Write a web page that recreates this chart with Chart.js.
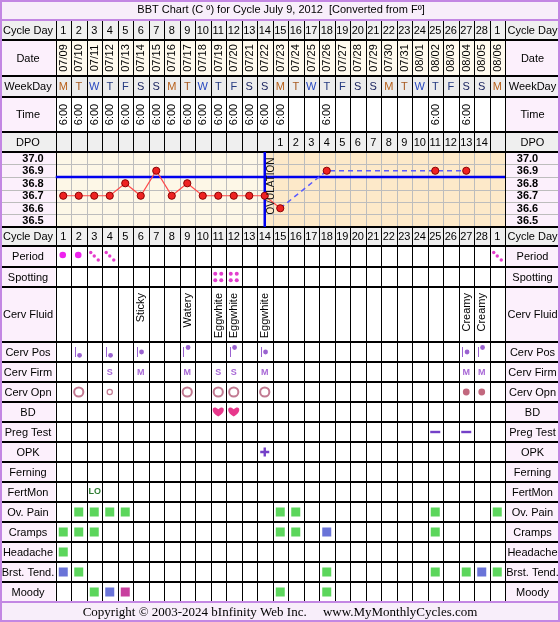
<!DOCTYPE html>
<html><head><meta charset="utf-8">
<script src="https://cdn.jsdelivr.net/npm/chart.js@4/dist/chart.umd.min.js"></script>
<style>html,body{margin:0;padding:0;background:#fff}#wrap{position:relative;width:560px;height:622px}</style>
</head><body><div id="wrap"><canvas id="c"></canvas></div>
<script>
// ---------- DATA ----------
const chartTitle = 'BBT Chart (C \u00BA) for Cycle July 9, 2012  [Converted from F\u00BA]';
const copyrightText = 'Copyright \u00A9 2003-2024 bInfinity Web Inc.     www.MyMonthlyCycles.com';
const cycleDays = [1,2,3,4,5,6,7,8,9,10,11,12,13,14,15,16,17,18,19,20,21,22,23,24,25,26,27,28,1];
const dates = ['07/09','07/10','07/11','07/12','07/13','07/14','07/15','07/16','07/17','07/18','07/19','07/20','07/21','07/22','07/23','07/24','07/25','07/26','07/27','07/28','07/29','07/30','07/31','08/01','08/02','08/03','08/04','08/05','08/06'];
const weekDays = ['M','T','W','T','F','S','S','M','T','W','T','F','S','S','M','T','W','T','F','S','S','M','T','W','T','F','S','S','M'];
const times = ['6:00','6:00','6:00','6:00','6:00','6:00','6:00','6:00','6:00','6:00','6:00','6:00','6:00','6:00','6:00','','','6:00','','','','','','','6:00','','6:00','',''];
const dpo = ['','','','','','','','','','','','','','','1','2','3','4','5','6','7','8','9','10','11','12','13','14',''];
const temperatures = [36.7,36.7,36.7,36.7,36.8,36.7,36.9,36.7,36.8,36.7,36.7,36.7,36.7,36.7,36.6,null,null,36.9,null,null,null,null,null,null,36.9,null,36.9,null,null];
const tempTicks = [37.0,36.9,36.8,36.7,36.6,36.5];
const tempMin = 36.45, tempMax = 37.05;
const coverLine = 36.85;
const ovulationDay = 14;
// 2 = heavy, 1 = light
const period   = [2,2,1,1,0,0,0,0,0,0,0,0,0,0,0,0,0,0,0,0,0,0,0,0,0,0,0,0,1];
const spotting = [0,0,0,0,0,0,0,0,0,0,1,1,0,0,0,0,0,0,0,0,0,0,0,0,0,0,0,0,0];
const cervFluid = ['','','','','','Sticky','','','Watery','','Eggwhite','Eggwhite','','Eggwhite','','','','','','','','','','','','','Creamy','Creamy',''];
const cervPos  = ['','L','','L','','M','','','H','','','H','','M','','','','','','','','','','','','','M','H',''];
const cervFirm = ['','','','S','','M','','','M','','S','S','','M','','','','','','','','','','','','','M','M',''];
const cervOpn  = ['','O','','S','','','','','O','','O','O','','O','','','','','','','','','','','','','C','C',''];
const bd       = [0,0,0,0,0,0,0,0,0,0,1,1,0,0,0,0,0,0,0,0,0,0,0,0,0,0,0,0,0];
const pregTest = ['','','','','','','','','','','','','','','','','','','','','','','','','-','','-','',''];
const opk      = ['','','','','','','','','','','','','','+','','','','','','','','','','','','','','',''];
const ferning  = ['','','','','','','','','','','','','','','','','','','','','','','','','','','','',''];
const fertMon  = ['','','LO','','','','','','','','','','','','','','','','','','','','','','','','','',''];
// symptom intensity 1 mild, 2 moderate, 3 severe
const ovPain   = [0,1,1,1,1,0,0,0,0,0,0,0,0,0,1,1,0,0,0,0,0,0,0,0,1,0,0,0,1];
const cramps   = [1,1,1,0,0,0,0,0,0,0,0,0,0,0,1,1,0,2,0,0,0,0,0,0,1,0,0,0,0];
const headache = [1,0,0,0,0,0,0,0,0,0,0,0,0,0,0,0,0,0,0,0,0,0,0,0,0,0,0,0,0];
const brstTend = [2,1,0,0,0,0,0,0,0,0,0,0,0,0,0,0,0,1,0,0,0,0,0,0,1,0,1,2,1];
const moody    = [0,0,1,2,3,0,0,0,0,0,0,0,0,0,1,0,0,1,0,0,0,0,0,0,0,0,0,0,0];

// ---------- LAYOUT (row order, labels, heights) ----------
const ROWS = [
 ['title','',20],['cycleDay','Cycle Day',20],['date','Date',36],['weekDay','WeekDay',21],['time','Time',35],
 ['dpo','DPO',20],['temp','',75],['cycleDay2','Cycle Day',19],['period','Period',21],['spotting','Spotting',20],
 ['cervFluid','Cerv Fluid',55],['cervPos','Cerv Pos',20],['cervFirm','Cerv Firm',20],['cervOpn','Cerv Opn',20],
 ['bd','BD',20],['pregTest','Preg Test',20],['opk','OPK',20],['ferning','Ferning',20],['fertMon','FertMon',20],
 ['ovPain','Ov. Pain',20],['cramps','Cramps',20],['headache','Headache',20],['brstTend','Brst. Tend.',20],
 ['moody','Moody',20],['copyright','',20]
];
const rowPos = {}; let acc = 0;
ROWS.forEach(r => { rowPos[r[0]] = {top: acc, h: r[2], label: r[1]}; acc += r[2]; });
const TOTAL_H = acc;
const LEFT_W = 55.5, RIGHT_W = 55;

const FF = '"Liberation Sans", Arial, sans-serif';
const C = {
  border:'#c387e3', lav:'#f8eefa', labelBg:'#fcf0fc', gray:'#efefef', dateBg:'#fffaee',
  pre:'#fdf7e7', post:'#fde9c9', grid:'#bdbdbd', blue:'#0000ee', red:'#ff4a4a',
  purple:'#9a62d0', rose:'#c27a92', pink:'#e8388c', violet:'#7440c8',
  levels:['', '#5cd65c', '#6a74d8', '#c8409e']
};
const wdColors = ['#b8601a','#a85a20','#2848c0','#243a80','#243a80','#1c2560','#1c2560'];

function txt(ctx, s, x, y, font, color, align, rot, base) {
  ctx.save(); ctx.translate(x, y); if (rot) ctx.rotate(rot);
  ctx.font = font; ctx.fillStyle = color; ctx.textAlign = align || 'center'; ctx.textBaseline = base || 'middle';
  ctx.fillText(s, 0, 0); ctx.restore();
}
function heart(ctx, x, y, s, color) {
  ctx.beginPath();
  ctx.moveTo(x, y + s*0.5);
  ctx.bezierCurveTo(x - s*0.95, y - s*0.05, x - s*0.5, y - s*0.75, x, y - s*0.22);
  ctx.bezierCurveTo(x + s*0.5, y - s*0.75, x + s*0.95, y - s*0.05, x, y + s*0.5);
  ctx.fillStyle = color; ctx.fill();
}

const tablePlugin = {
  id: 'cycleTable',
  beforeDraw(chart) {
    const ctx = chart.ctx, xs = chart.scales.x, ys = chart.scales.y, A = chart.chartArea;
    const W = chart.width;
    const X = d => xs.getPixelForValue(d);
    ctx.save();
    ctx.fillStyle = '#fff'; ctx.fillRect(0, 0, W, chart.height);
    // row backgrounds
    ROWS.forEach(([key]) => {
      const p = rowPos[key];
      let lab = C.labelBg, cell = '#fff';
      if (key === 'title' || key === 'copyright') { lab = cell = C.lav; }
      else if (key === 'cycleDay' || key === 'cycleDay2' || key === 'dpo') { lab = C.gray; cell = C.gray; }
      else if (key === 'weekDay') { lab = '#f2eef3'; cell = '#ececec'; }
      else if (key === 'date') { cell = C.dateBg; }
      ctx.fillStyle = lab; ctx.fillRect(0, p.top, W, p.h);
      if (key !== 'title' && key !== 'copyright' && key !== 'temp') { ctx.fillStyle = cell; ctx.fillRect(A.left, p.top, A.right - A.left, p.h); }
    });
    // temperature area backgrounds
    const xo = X(ovulationDay);
    ctx.fillStyle = C.pre; ctx.fillRect(A.left, A.top, xo - A.left, A.bottom - A.top);
    ctx.fillStyle = C.post; ctx.fillRect(xo, A.top, A.right - xo, A.bottom - A.top);
    // temp grid
    ctx.strokeStyle = C.grid; ctx.lineWidth = 1;
    ctx.beginPath();
    for (let d = 1; d < 29; d++) { const x = Math.round(X(d + 0.5)) + 0.5; ctx.moveTo(x, A.top); ctx.lineTo(x, A.bottom); }
    tempTicks.slice(0, -1).forEach(t => { const y = Math.round(ys.getPixelForValue(t - 0.05)) + 0.5; ctx.moveTo(0, y); ctx.lineTo(W, y); });
    ctx.stroke();
    // vertical black column lines outside temp
    ctx.strokeStyle = '#000'; ctx.lineWidth = 1;
    ctx.beginPath();
    const yTop = rowPos.cycleDay.top, yBot = rowPos.copyright.top;
    for (let d = 0; d <= 29; d++) {
      const x = Math.round(X(d + 0.5)) + 0.5;
      ctx.moveTo(x, yTop); ctx.lineTo(x, A.top);
      ctx.moveTo(x, A.bottom); ctx.lineTo(x, yBot);
    }
    [X(0.5), X(29.5)].forEach(x0 => { const x = Math.round(x0) + 0.5; ctx.moveTo(x, A.top); ctx.lineTo(x, A.bottom); });
    ctx.stroke();
    // horizontal black row lines
    ctx.lineWidth = 2; ctx.beginPath();
    ROWS.forEach(([key]) => {
      if (key === 'title' || key === 'cycleDay' || key === 'copyright') return;
      const y = rowPos[key].top; ctx.moveTo(0, y); ctx.lineTo(W, y);
    });
    ctx.stroke();
    // purple frame
    ctx.strokeStyle = C.border; ctx.lineWidth = 2; ctx.beginPath();
    ctx.moveTo(0, rowPos.cycleDay.top); ctx.lineTo(W, rowPos.cycleDay.top);
    ctx.moveTo(0, rowPos.copyright.top); ctx.lineTo(W, rowPos.copyright.top);
    ctx.stroke();
    ctx.strokeRect(1, 1, W - 2, chart.height - 2);
    ctx.restore();
  },
  afterDatasetsDraw(chart) {
    const ctx = chart.ctx, xs = chart.scales.x, ys = chart.scales.y, A = chart.chartArea;
    const W = chart.width;
    const X = d => xs.getPixelForValue(d);
    const LX = 28, RX = (A.right + W) / 2;
    const f11 = '11px ' + FF;
    ctx.save();
    // title and copyright
    txt(ctx, chartTitle, 281, rowPos.title.top + 10, '11px ' + FF, '#000');
    txt(ctx, copyrightText, 280, rowPos.copyright.top + 11, '13px "Liberation Serif", "Times New Roman", serif', '#000');
    // row labels
    ROWS.forEach(([key, label]) => {
      if (!label) return;
      const p = rowPos[key], cy = p.top + p.h / 2 + 0.5;
      txt(ctx, label, LX, cy, f11, '#000');
      txt(ctx, label, RX, cy, f11, '#000');
    });
    // temp tick labels
    tempTicks.forEach(t => {
      const y = ys.getPixelForValue(t) + 0.5;
      txt(ctx, t.toFixed(1), 33, y, 'bold 11px ' + FF, '#000');
      txt(ctx, t.toFixed(1), RX - 5, y, 'bold 11px ' + FF, '#000');
    });
    // ovulation label
    txt(ctx, 'OVULATION', X(ovulationDay) + 6, A.top + 34, '10px ' + FF, '#111', 'center', -Math.PI / 2);
    const mid = k => rowPos[k].top + rowPos[k].h / 2;
    for (let i = 0; i < 29; i++) {
      const x = X(i + 1);
      txt(ctx, String(cycleDays[i]), x, mid('cycleDay') + 0.5, f11, '#000');
      txt(ctx, String(cycleDays[i]), x, mid('cycleDay2') + 0.5, f11, '#000');
      txt(ctx, dates[i], x + 0.5, mid('date'), f11, '#000', 'center', -Math.PI / 2);
      txt(ctx, weekDays[i], x, mid('weekDay') + 0.5, f11, wdColors[i % 7]);
      if (times[i]) txt(ctx, times[i], x + 0.5, mid('time'), f11, '#000', 'center', -Math.PI / 2);
      if (dpo[i]) txt(ctx, dpo[i], x, mid('dpo') + 0.5, f11, '#000');
      // period
      if (period[i] === 2) { ctx.fillStyle = '#ee22ee'; ctx.beginPath(); ctx.arc(x - 0.5, mid('period') - 1.5, 3.3, 0, 2 * Math.PI); ctx.fill(); }
      else if (period[i] === 1) {
        ctx.fillStyle = '#e43ccc';
        [[-3.5, -3.5], [0, 0], [4, 4]].forEach(([dx, dy]) => { ctx.beginPath(); ctx.arc(x + dx, mid('period') + dy - 0.5, 1.7, 0, 2 * Math.PI); ctx.fill(); });
      }
      if (spotting[i]) {
        ctx.fillStyle = '#e23ece';
        [[-3, -3.3], [3, -3.3], [-3, 3.3], [3, 3.3]].forEach(([dx, dy]) => { ctx.beginPath(); ctx.arc(x + dx, mid('spotting') + dy, 2, 0, 2 * Math.PI); ctx.fill(); });
      }
      if (cervFluid[i]) txt(ctx, cervFluid[i], x + 0.5, rowPos.cervFluid.top + 6, f11, '#000', 'right', -Math.PI / 2);
      if (cervPos[i]) {
        const m = mid('cervPos');
        ctx.strokeStyle = C.purple; ctx.lineWidth = 1; ctx.beginPath();
        ctx.moveTo(Math.round(x - 4) + 0.5, m - 5); ctx.lineTo(Math.round(x - 4) + 0.5, m + 5); ctx.stroke();
        const dy = cervPos[i] === 'L' ? 3.3 : cervPos[i] === 'M' ? 0 : -4.5;
        ctx.fillStyle = C.purple; ctx.beginPath(); ctx.arc(x + 0.8, m + dy, 2.4, 0, 2 * Math.PI); ctx.fill();
      }
      if (cervFirm[i]) txt(ctx, cervFirm[i], x, mid('cervFirm') + 0.5, 'bold 9px ' + FF, '#a868d6');
      if (cervOpn[i]) {
        const m = mid('cervOpn');
        ctx.beginPath();
        if (cervOpn[i] === 'O') { ctx.strokeStyle = C.rose; ctx.lineWidth = 2; ctx.arc(x, m, 4.6, 0, 2 * Math.PI); ctx.stroke(); }
        else if (cervOpn[i] === 'S') { ctx.strokeStyle = C.rose; ctx.lineWidth = 1.2; ctx.arc(x, m, 2.6, 0, 2 * Math.PI); ctx.stroke(); }
        else { ctx.fillStyle = '#c2687e'; ctx.arc(x, m, 3.4, 0, 2 * Math.PI); ctx.fill(); }
      }
      if (bd[i]) heart(ctx, x, mid('bd') - 0.5, 10, C.pink);
      if (pregTest[i] === '-') { ctx.fillStyle = C.violet; ctx.fillRect(x - 5, mid('pregTest') - 1.2, 10, 2.4); }
      if (opk[i] === '+') {
        ctx.strokeStyle = C.violet; ctx.lineWidth = 2.4; ctx.beginPath();
        const m = mid('opk');
        ctx.moveTo(x - 4.5, m); ctx.lineTo(x + 4.5, m); ctx.moveTo(x, m - 4.5); ctx.lineTo(x, m + 4.5); ctx.stroke();
      }
      if (ferning[i]) txt(ctx, ferning[i], x, mid('ferning'), 'bold 8px ' + FF, '#2e7d32');
      if (fertMon[i]) txt(ctx, fertMon[i], x + 0.5, mid('fertMon') - 0.5, 'bold 9px ' + FF, '#2e7d32');
      [['ovPain', ovPain], ['cramps', cramps], ['headache', headache], ['brstTend', brstTend], ['moody', moody]].forEach(([k, arr]) => {
        const v = arr[i]; if (!v) return;
        const m = mid(k);
        ctx.fillStyle = C.levels[v]; ctx.fillRect(x - 4.5, m - 4.5, 9, 9);
      });
    }
    ctx.restore();
  }
};

const tempTop = rowPos.temp.top, tempBottom = rowPos.temp.top + rowPos.temp.h;
const gap = c => !!(c.p0.skip || c.p1.skip);
new Chart(document.getElementById('c'), {
  type: 'line',
  data: {
    datasets: [
      {
        data: temperatures.map((t, i) => ({x: i + 1, y: t})),
        spanGaps: true, borderWidth: 1.2, borderColor: C.red,
        segment: {
          borderColor: c => gap(c) ? '#5a5aff' : C.red,
          borderDash: c => gap(c) ? [5, 4] : [],
          borderWidth: c => gap(c) ? 1.5 : 1.2
        },
        pointRadius: 3.6, pointBackgroundColor: '#ee2222', pointBorderColor: '#8a0000', pointBorderWidth: 1
      },
      { data: [{x: 0.5, y: coverLine}, {x: 29.5, y: coverLine}], borderColor: C.blue, borderWidth: 2.5, pointRadius: 0 },
      { data: [{x: ovulationDay, y: tempMin}, {x: ovulationDay, y: tempMax}], borderColor: C.blue, borderWidth: 2.5, pointRadius: 0 }
    ]
  },
  options: {
    responsive: true, maintainAspectRatio: false, animation: false, events: [],
    layout: { padding: { left: LEFT_W, right: RIGHT_W, top: tempTop, bottom: TOTAL_H - tempBottom } },
    scales: {
      x: { type: 'linear', min: 0.5, max: 29.5, display: false },
      y: { type: 'linear', min: tempMin, max: tempMax, display: false }
    },
    plugins: { legend: { display: false }, tooltip: { enabled: false }, title: { display: false } }
  },
  plugins: [tablePlugin]
});
</script></body></html>
